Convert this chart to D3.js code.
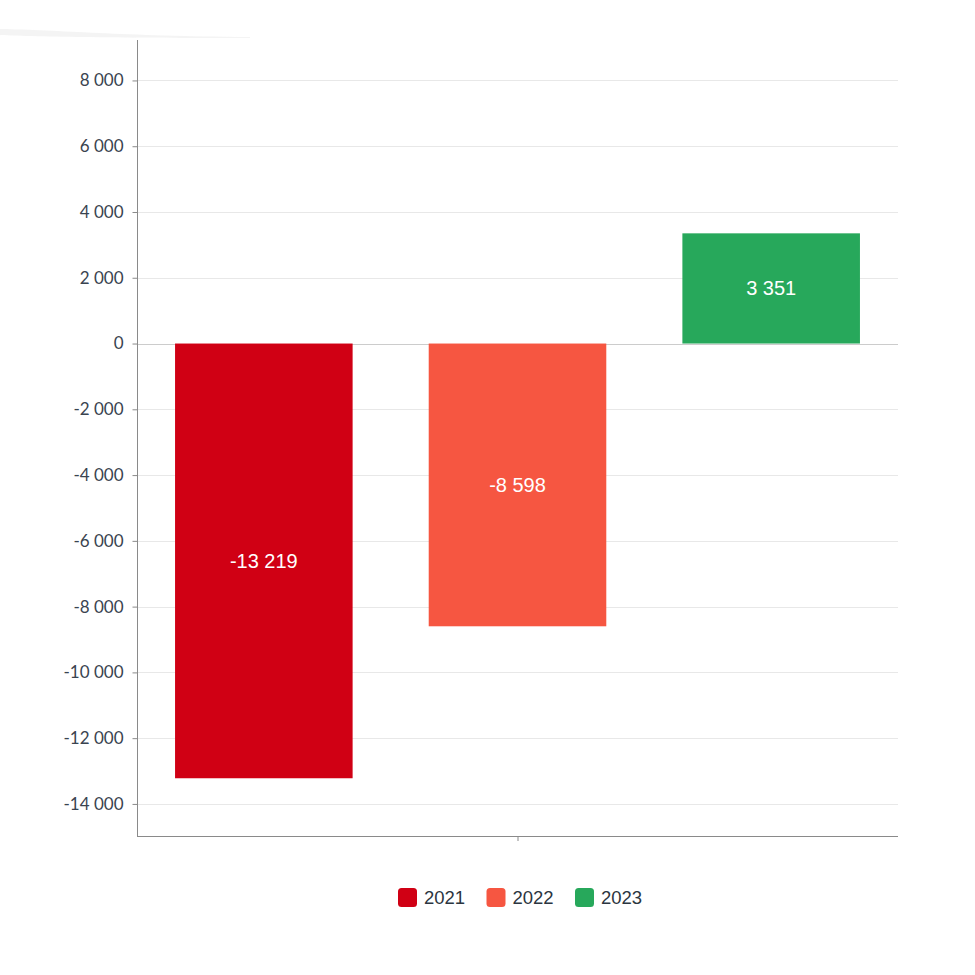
<!DOCTYPE html>
<html>
<head>
<meta charset="utf-8">
<script src="https://cdn.jsdelivr.net/npm/d3@7"></script>
<style>
  html, body { margin: 0; padding: 0; background: #fff; }
  svg { display: block; }
</style>
</head>
<body>
<svg id="chart" width="975" height="975"></svg>
<script>
const series = ["2021", "2022", "2023"];
const values = [-13219, -8598, 3351];
const colors = ["#d00014", "#f65641", "#27a85b"];
const yTicks = [8000, 6000, 4000, 2000, 0, -2000, -4000, -6000, -8000, -10000, -12000, -14000];

(function () {
const svg = d3.select("#chart");
const mLeft = 137, mRight = 898, mTop = 40, mBottom = 836;

// faint artifact swoosh top-left
svg.append("path")
  .attr("d", "M0,29 C60,30 120,36 250,37 L250,38 C120,38 40,37 0,35 Z")
  .attr("fill", "#f0f0f0").attr("opacity", 0.7);

const y = d3.scaleLinear().domain([-14975, 9230]).range([mBottom, mTop]);
const x = d3.scaleBand().domain(series).range([mLeft, mRight]).paddingInner(0.3).paddingOuter(0.15);

const fmt = v => d3.format(",")(v).replace(/,/g, " ").replace("−", "-");

// grid lines
svg.append("g").selectAll("line").data(yTicks).join("line")
  .attr("x1", mLeft).attr("x2", mRight)
  .attr("y1", d => Math.round(y(d)) + 0.5).attr("y2", d => Math.round(y(d)) + 0.5)
  .attr("stroke", d => d === 0 ? "#cccccc" : "#e8e8e8").attr("stroke-width", 1);

// y axis
const yAxis = d3.axisLeft(y).tickValues(yTicks).tickSize(5).tickPadding(9).tickFormat(fmt);
const gy = svg.append("g").attr("transform", `translate(${mLeft + 0.5},0)`).call(yAxis);
gy.select(".domain").attr("stroke", "#8a8a8a").attr("d", `M0,${mTop}V${mBottom}`);
gy.selectAll(".tick line").attr("stroke", "#8a8a8a");
gy.selectAll(".tick text")
  .attr("font-family", "Lato, sans-serif").attr("font-size", 17).attr("fill", "#3a4450");

// x axis
svg.append("line").attr("x1", mLeft).attr("x2", mRight)
  .attr("y1", mBottom + 0.5).attr("y2", mBottom + 0.5).attr("stroke", "#8a8a8a");
svg.append("line").attr("x1", (mLeft + mRight) / 2 + 0.5).attr("x2", (mLeft + mRight) / 2 + 0.5)
  .attr("y1", mBottom).attr("y2", mBottom + 5).attr("stroke", "#8a8a8a");

// bars
const data = series.map((s, i) => ({ s, v: values[i], c: colors[i] }));
svg.append("g").selectAll("rect").data(data).join("rect")
  .attr("x", d => x(d.s)).attr("width", x.bandwidth())
  .attr("y", d => y(Math.max(0, d.v)))
  .attr("height", d => Math.abs(y(d.v) - y(0)))
  .attr("fill", d => d.c);

svg.append("g").selectAll("text").data(data).join("text")
  .attr("x", d => x(d.s) + x.bandwidth() / 2)
  .attr("y", d => (y(d.v) + y(0)) / 2)
  .attr("dy", "0.35em")
  .attr("text-anchor", "middle")
  .attr("font-family", "Liberation Sans, Arial, sans-serif").attr("font-size", 20)
  .attr("fill", "#ffffff")
  .text(d => fmt(d.v));

// legend
const lg = svg.append("g").attr("transform", "translate(398,888)");
const items = lg.selectAll("g").data(data).join("g")
  .attr("transform", (d, i) => `translate(${i * 88.5},0)`);
items.append("rect").attr("width", 19).attr("height", 19).attr("rx", 3.5).attr("fill", d => d.c);
items.append("text").attr("x", 26).attr("y", 9.5).attr("dy", "0.36em")
  .attr("font-family", "Liberation Sans, Arial, sans-serif").attr("font-size", 18.5)
  .attr("fill", "#2b3540").text(d => d.s);
})();
</script>
</body>
</html>
